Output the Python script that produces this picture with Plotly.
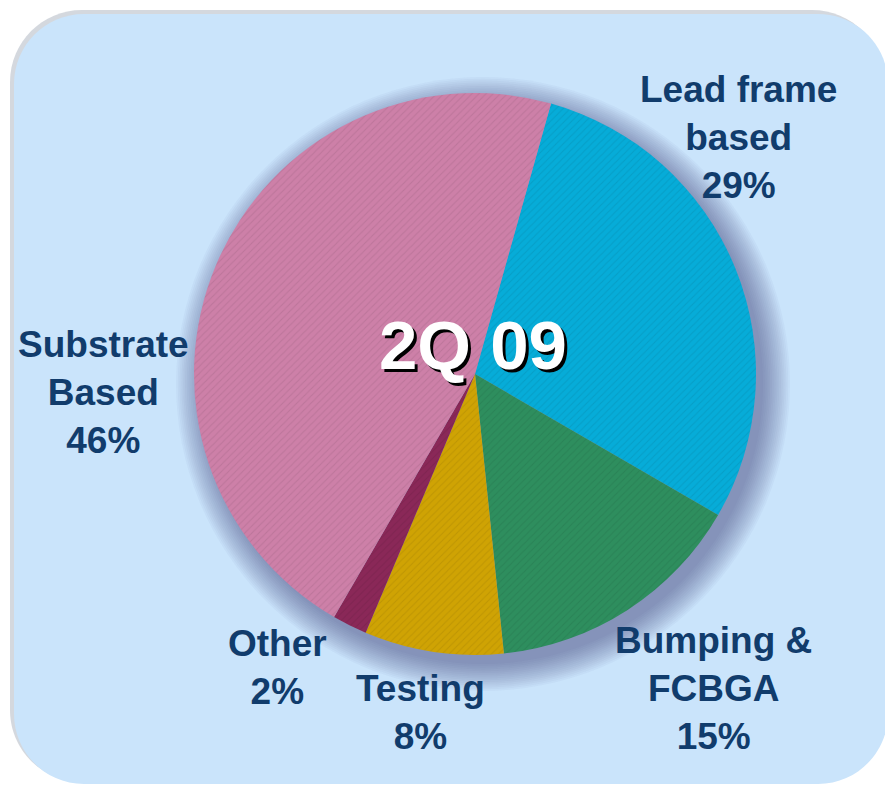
import plotly.graph_objects as go

# ---- data ----
categories = ["Lead frame<br>based", "Bumping &<br>FCBGA", "Testing", "Other", "Substrate<br>Based"]
shares = [29, 15, 8, 2, 46]
center_label = "2Q 09"

# ---- style / layout ----
slice_colors = ["#06ACD8", "#2E8E5E", "#CFA304", "#8A2858", "#CD80A8"]
label_pos = [(738, 137), (713, 688), (420, 712), (277, 667), (103, 392)]
text_color = "#113C6C"
W, H = 885, 787
cx, cy, r = 475, 374, 281

fig = go.Figure()

fig.add_trace(go.Pie(
    labels=[c.replace("<br>", " ") for c in categories],
    values=shares,
    sort=False,
    direction="clockwise",
    rotation=15.7,
    textinfo="none",
    hoverinfo="label+percent",
    showlegend=False,
    marker=dict(colors=slice_colors, line=dict(width=0),
                pattern=dict(shape="/", fgcolor="#000000", bgcolor=slice_colors,
                             fgopacity=0.08, size=5, solidity=0.2)),
    domain=dict(x=[(cx - r) / W, (cx + r) / W], y=[1 - (cy + r) / H, 1 - (cy - r) / H]),
))


def rrect(x0, y0, x1, y1, rad):
    k = 0.5523 * rad
    return (f"M{x0+rad},{y0} L{x1-rad},{y0} C{x1-rad+k},{y0} {x1},{y0+rad-k} {x1},{y0+rad} "
            f"L{x1},{y1-rad} C{x1},{y1-rad+k} {x1-rad+k},{y1} {x1-rad},{y1} "
            f"L{x0+rad},{y1} C{x0+rad-k},{y1} {x0},{y1-rad+k} {x0},{y1-rad} "
            f"L{x0},{y0+rad} C{x0},{y0+rad-k} {x0+rad-k},{y0} {x0+rad},{y0} Z")


shapes = []
# panel shadow + panel
shapes.append(dict(type="path", path=rrect(10, 10, 884, 782, 72), xref="x", yref="y",
                   fillcolor="rgba(160,168,182,0.45)", line=dict(width=0), layer="below"))
shapes.append(dict(type="path", path=rrect(14, 14, 888, 784, 70), xref="x", yref="y",
                   fillcolor="#CAE4FB", line=dict(width=0), layer="below"))
# soft pie shadow
for i in range(16):
    rr = r + 26 - i * 1.8
    shapes.append(dict(type="circle", xref="x", yref="y",
                       x0=cx + 8 - rr, x1=cx + 8 + rr, y0=cy + 10 - rr, y1=cy + 10 + rr,
                       fillcolor="rgba(60,70,100,0.035)", line=dict(width=0), layer="below"))

annotations = []
for cat, val, (lx, ly) in zip(categories, shares, label_pos):
    annotations.append(dict(x=lx, y=ly, xref="x", yref="y", showarrow=False,
                            text=f"<b>{cat}<br>{val}%</b>", align="center",
                            xanchor="center", yanchor="middle",
                            font=dict(family="Liberation Sans, Arial", size=37, color=text_color)))
# center label with drop shadow
annotations.append(dict(x=473, y=345, xref="x", yref="y", showarrow=False,
                        text=f"<b>{center_label}</b>", xanchor="center", yanchor="middle",
                        font=dict(family="Liberation Sans, Arial", size=69, color="#FFFFFF",
                                  shadow="3px 3px 0px #000000")))

fig.update_layout(
    width=W, height=H,
    margin=dict(l=0, r=0, t=0, b=0),
    paper_bgcolor="#FFFFFF",
    plot_bgcolor="rgba(0,0,0,0)",
    xaxis=dict(range=[0, W], visible=False, fixedrange=True, domain=[0, 1]),
    yaxis=dict(range=[H, 0], visible=False, fixedrange=True, domain=[0, 1]),
    shapes=shapes,
    annotations=annotations,
)

fig.write_html("out.html", config={"displayModeBar": False},
               post_script="document.body.style.margin='0';")
